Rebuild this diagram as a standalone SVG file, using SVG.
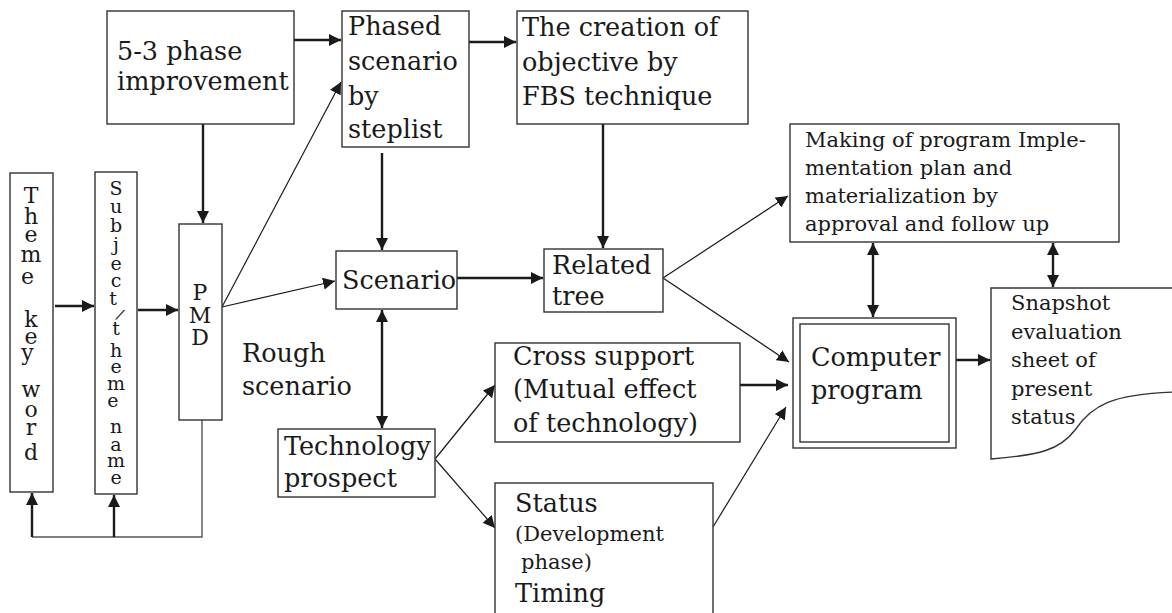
<svg xmlns="http://www.w3.org/2000/svg" width="1172" height="613" viewBox="0 0 1172 613">
  <style>
    .box { fill: #fff; stroke: #333; stroke-width: 1.4; }
    .t { font-family: "DejaVu Serif", "Liberation Serif", serif; fill: #1a1a1a; font-size: 25.5px; }
    .s { font-size: 21px; }
    .v { text-anchor: middle; font-size: 22px; }
    .vs { text-anchor: middle; font-size: 19px; }
    .thick { fill: none; stroke: #1a1a1a; stroke-width: 2.4; }
    .thin { fill: none; stroke: #1a1a1a; stroke-width: 1.2; }
    .gray { fill: none; stroke: #555; stroke-width: 1.4; }
  </style>
  <defs>
    <marker id="arr" markerUnits="userSpaceOnUse" markerWidth="14" markerHeight="12" refX="12" refY="6" orient="auto">
      <path d="M0,0 L12,6 L0,12 Z" fill="#1a1a1a"/>
    </marker>
    <marker id="arrS" markerUnits="userSpaceOnUse" markerWidth="14" markerHeight="12" refX="0" refY="6" orient="auto">
      <path d="M12,0 L0,6 L12,12 Z" fill="#1a1a1a"/>
    </marker>
  </defs>
  <rect width="1172" height="613" fill="#fff"/>

  <!-- connectors -->
  <g id="connectors">
    <path class="thick" d="M55,306 H94" marker-end="url(#arr)"/>
    <path class="thick" d="M138,310 H178" marker-end="url(#arr)"/>
    <path class="thick" d="M203,124 V223" marker-end="url(#arr)"/>
    <path class="thick" d="M294,40 H341" marker-end="url(#arr)"/>
    <path class="thick" d="M469,42 H516" marker-end="url(#arr)"/>
    <path class="thin" d="M222,307 L341,82" marker-end="url(#arr)"/>
    <path class="thin" d="M222,307 L335,281" marker-end="url(#arr)"/>
    <path class="thick" d="M382,153 V250" marker-end="url(#arr)"/>
    <path class="thick" d="M457,278 H543" marker-end="url(#arr)"/>
    <path class="thick" d="M603,124 V248" marker-end="url(#arr)"/>
    <path class="thick" d="M382,310 V428" marker-start="url(#arrS)" marker-end="url(#arr)"/>
    <path class="thin" d="M663,278 L788,196" marker-end="url(#arr)"/>
    <path class="thin" d="M663,278 L789,362" marker-end="url(#arr)"/>
    <path class="thick" d="M740,385 H788" marker-end="url(#arr)"/>
    <path class="thin" d="M713,527 L786,407" marker-end="url(#arr)"/>
    <path class="thin" d="M435,459 L495,385" marker-end="url(#arr)"/>
    <path class="thin" d="M435,459 L495,528" marker-end="url(#arr)"/>
    <path class="thick" d="M956,360 H990" marker-end="url(#arr)"/>
    <path class="thick" d="M873,243 V317" marker-start="url(#arrS)" marker-end="url(#arr)"/>
    <path class="thick" d="M1053,243 V287" marker-start="url(#arrS)" marker-end="url(#arr)"/>
    <!-- feedback loop from PMD back to the two theme columns -->
    <path class="gray" d="M202,420 V537 H32"/>
    <path class="thick" d="M32,537 V493" marker-end="url(#arr)"/>
    <path class="thick" d="M114,537 V495" marker-end="url(#arr)"/>
  </g>

  <!-- nodes -->
  <g id="theme-key-word">
    <rect class="box" x="10" y="173" width="43" height="319"/>
    <text class="t v">
      <tspan x="31" y="203">T</tspan><tspan x="31" y="224">h</tspan><tspan x="31" y="242">e</tspan><tspan x="31" y="262">m</tspan><tspan x="31" y="284">e</tspan>
      <tspan x="31" y="327">k</tspan><tspan x="31" y="344">e</tspan><tspan x="31" y="360">y</tspan>
      <tspan x="31" y="397">w</tspan><tspan x="31" y="417">o</tspan><tspan x="31" y="435">r</tspan><tspan x="31" y="460">d</tspan>
    </text>
  </g>

  <g id="subject-theme-name">
    <rect class="box" x="95" y="172" width="42" height="322"/>
    <text class="t vs">
      <tspan x="116" y="195">S</tspan><tspan x="116" y="213">u</tspan><tspan x="116" y="232">b</tspan><tspan x="116" y="251">j</tspan><tspan x="116" y="270">e</tspan><tspan x="116" y="287">c</tspan><tspan x="116" y="305">t</tspan>
      <tspan x="116" y="335">t</tspan><tspan x="116" y="357">h</tspan><tspan x="116" y="373">e</tspan><tspan x="116" y="390">m</tspan><tspan x="116" y="407">e</tspan>
      <tspan x="116" y="433">n</tspan><tspan x="116" y="451">a</tspan><tspan x="116" y="467">m</tspan><tspan x="116" y="484">e</tspan>
    </text>
    <text class="t vs" style="font-size:15px" transform="translate(118,319) rotate(25)" x="0" y="0">/</text>
  </g>

  <g id="pmd">
    <rect class="box" x="179" y="224" width="43" height="196"/>
    <text class="t v">
      <tspan x="200" y="300">P</tspan><tspan x="200" y="323">M</tspan><tspan x="200" y="345">D</tspan>
    </text>
  </g>

  <g id="phase-improvement">
    <rect class="box" x="107" y="11" width="187" height="113"/>
    <text class="t"><tspan x="117" y="60">5-3 phase</tspan><tspan x="117" y="90">improvement</tspan></text>
  </g>

  <g id="phased-scenario">
    <rect class="box" x="342" y="11" width="127" height="136"/>
    <text class="t">
      <tspan x="348" y="35">Phased</tspan><tspan x="348" y="70">scenario</tspan><tspan x="348" y="105">by</tspan><tspan x="348" y="138">steplist</tspan>
    </text>
  </g>

  <g id="fbs-objective">
    <rect class="box" x="517" y="11" width="231" height="113"/>
    <text class="t">
      <tspan x="522" y="36">The creation of</tspan><tspan x="522" y="71">objective by</tspan><tspan x="522" y="105">FBS technique</tspan>
    </text>
  </g>

  <g id="implementation-plan">
    <rect class="box" x="790" y="124" width="329" height="118"/>
    <text class="t s">
      <tspan x="805" y="147">Making of program Imple-</tspan><tspan x="805" y="175">mentation plan and</tspan><tspan x="805" y="203">materialization by</tspan><tspan x="805" y="231">approval and follow up</tspan>
    </text>
  </g>

  <g id="scenario">
    <rect class="box" x="336" y="251" width="121" height="58"/>
    <text class="t" x="342" y="289">Scenario</text>
  </g>

  <g id="related-tree">
    <rect class="box" x="544" y="249" width="119" height="63"/>
    <text class="t"><tspan x="552" y="274">Related</tspan><tspan x="552" y="305">tree</tspan></text>
  </g>

  <g id="rough-scenario">
    <text class="t"><tspan x="242" y="362">Rough</tspan><tspan x="242" y="395">scenario</tspan></text>
  </g>

  <g id="technology-prospect">
    <rect class="box" x="278" y="429" width="157" height="68"/>
    <text class="t"><tspan x="284" y="455">Technology</tspan><tspan x="284" y="487">prospect</tspan></text>
  </g>

  <g id="cross-support">
    <rect class="box" x="495" y="343" width="245" height="99"/>
    <text class="t"><tspan x="513" y="365">Cross support</tspan><tspan x="513" y="398">(Mutual effect</tspan><tspan x="513" y="432">of technology)</tspan></text>
  </g>

  <g id="status">
    <rect class="box" x="495" y="483" width="218" height="140"/>
    <text class="t"><tspan x="515" y="512">Status</tspan></text>
    <text class="t s"><tspan x="515" y="541">(Development</tspan><tspan x="521" y="569">phase)</tspan></text>
    <text class="t"><tspan x="515" y="602">Timing</tspan></text>
  </g>

  <g id="computer-program">
    <rect class="box" x="793" y="318" width="163" height="130"/>
    <rect class="box" x="800" y="324" width="149" height="118"/>
    <text class="t"><tspan x="811" y="366">Computer</tspan><tspan x="811" y="399">program</tspan></text>
  </g>

  <g id="snapshot-sheet">
    <path class="box" d="M1176,288 H991 V459 C1040,455 1060,450 1075,430 C1092,405 1112,394 1176,392"/>
    <text class="t s">
      <tspan x="1011" y="310">Snapshot</tspan><tspan x="1011" y="339">evaluation</tspan><tspan x="1011" y="367">sheet of</tspan><tspan x="1011" y="396">present</tspan><tspan x="1011" y="424">status</tspan>
    </text>
  </g>
</svg>
